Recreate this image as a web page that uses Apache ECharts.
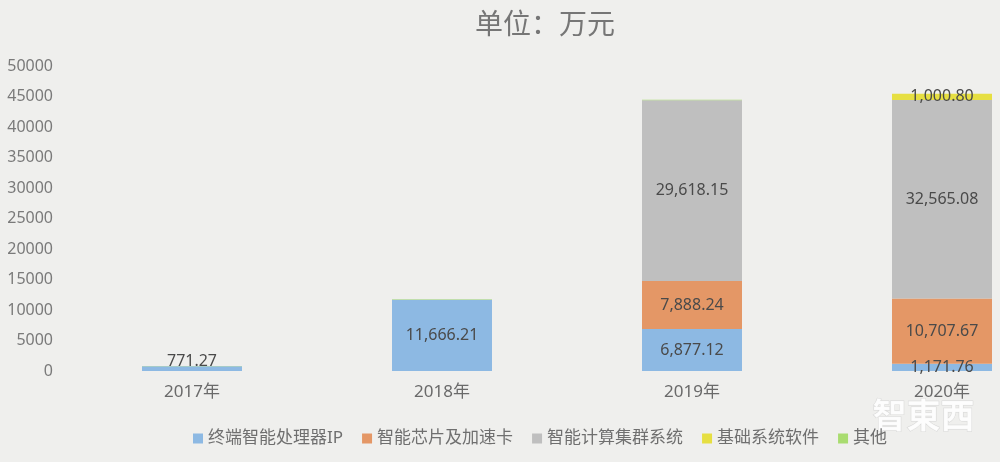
<!DOCTYPE html>
<html><head><meta charset="utf-8">
<script src="https://cdn.jsdelivr.net/npm/echarts@6/dist/echarts.min.js"></script>
<style>html,body{margin:0;padding:0;background:#efefed}#c{width:1000px;height:462px}</style>
</head><body><div id="c"></div>
<script>
const categories = ['2017年','2018年','2019年','2020年'];
const seriesNames = ['终端智能处理器IP','智能芯片及加速卡','智能计算集群系统','基础系统软件','其他'];
const ipValues = [771.27, 11666.21, 6877.12, 1171.76];
const chipValues = [null, null, 7888.24, 10707.67];
const clusterValues = [null, null, 29618.15, 32565.08];
const softwareValues = [null, null, null, 1000.80];
const otherValues = [60, 80, 70, null];
const yTicks = [0, 50000, 5000];
const colors = ['#8db9e3','#e49766','#bfbfbf','#e6df42','#a9dc70'];

const FONT = "'Noto Sans','Noto Sans CJK SC',sans-serif";
const fmt = v => Number(v).toLocaleString('en-US',{minimumFractionDigits:2,maximumFractionDigits:2});
const allValues = [ipValues, chipValues, clusterValues, softwareValues, otherValues];

const series = allValues.map((vals, si) => ({
  name: seriesNames[si],
  type: 'bar',
  stack: 'total',
  barWidth: 100,
  clip: false,
  itemStyle: {color: colors[si]},
  label: {
    show: si < 4,
    position: 'inside',
    color: '#4a4a4a',
    fontSize: 16,
    fontFamily: FONT,
    formatter: p => p.value == null ? '' : fmt(p.value)
  },
  data: vals.map((v, i) => {
    if (si === 0 && i === 0) {
      return {value: v, label: {position: 'top', distance: -3}};
    }
    return v;
  })
}));

const chart = echarts.init(document.getElementById('c'));
chart.setOption({
  backgroundColor: '#efefed',
  animation: false,
  title: {
    text: '单位：万元',
    left: 540, top: 7,
    textAlign: 'center',
    textStyle: {color: '#767676', fontSize: 28, fontWeight: 'normal', fontFamily: FONT}
  },
  legend: {
    left: 188, top: 425,
    itemWidth: 10, itemHeight: 10, itemGap: 19,
    icon: 'rect',
    textStyle: {color: '#6f6f6f', fontSize: 17, fontFamily: FONT},
    data: seriesNames
  },
  grid: {left: 192, width: 750, top: 66, height: 305, containLabel: false},
  xAxis: {
    type: 'category',
    boundaryGap: false,
    data: categories,
    axisLine: {show: false},
    axisTick: {show: false},
    axisLabel: {color: '#6a6a6a', fontSize: 17, fontFamily: FONT, margin: 13}
  },
  yAxis: {
    type: 'value',
    offset: 125,
    min: yTicks[0], max: yTicks[1], interval: yTicks[2],
    splitLine: {show: false},
    axisLine: {show: false},
    axisTick: {show: false},
    axisLabel: {color: '#7a7a7a', fontSize: 16, fontFamily: FONT, margin: 14, formatter: v => String(v)}
  },
  graphic: [{
    type: 'text', left: 872, top: 398,
    style: {text: '智東西', fill: 'rgba(255,255,255,0.85)', stroke: 'rgba(200,200,200,0.6)', lineWidth: 1,
            font: "bold 34px 'Noto Sans CJK TC'"}
  }],
  series: series
});
</script></body></html>
